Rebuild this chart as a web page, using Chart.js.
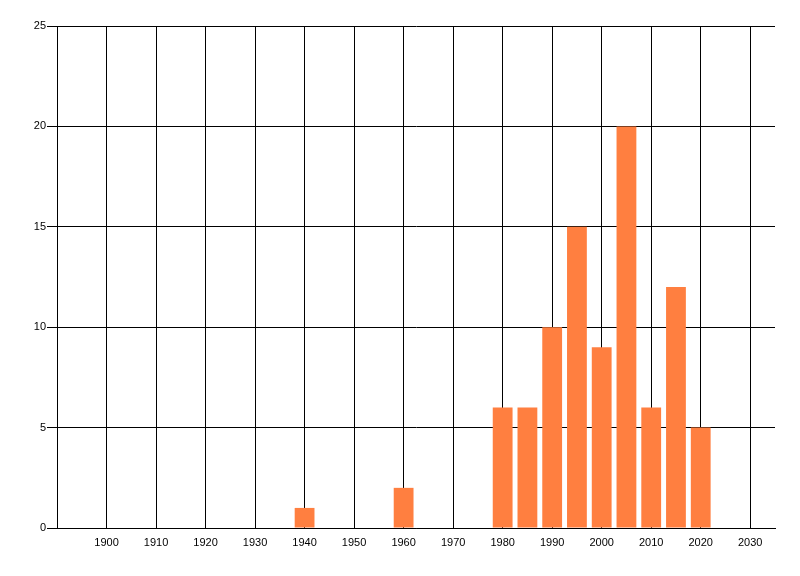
<!DOCTYPE html>
<html>
<head>
<meta charset="utf-8">
<script src="https://cdn.jsdelivr.net/npm/chart.js@4/dist/chart.umd.min.js"></script>
<style>
  html, body { margin: 0; padding: 0; background: #fff; }
  #wrap { width: 800px; height: 576px; }
</style>
</head>
<body>
<div id="wrap"><canvas id="chart" width="800" height="576"></canvas></div>
<script>
// values
const years = [1940, 1960, 1980, 1985, 1990, 1995, 2000, 2005, 2010, 2015, 2020];
const counts = [1, 2, 6, 6, 10, 15, 9, 20, 6, 12, 5];
const xTicks = [1900, 1910, 1920, 1930, 1940, 1950, 1960, 1970, 1980, 1990, 2000, 2010, 2020, 2030];
const yTicks = [0, 5, 10, 15, 20, 25];

Chart.defaults.font.family = '"Liberation Sans", Arial, sans-serif';
Chart.defaults.font.size = 11;
Chart.defaults.color = '#000';

const ctx = document.getElementById('chart').getContext('2d');
new Chart(ctx, {
    type: 'bar',
    data: {
        datasets: [{
            label: 'Count',
            data: years.map((y, i) => ({ x: y, y: counts[i] })),
            backgroundColor: 'rgb(255, 127, 64)',
            borderWidth: 0,
            categoryPercentage: 0.8,
            barPercentage: 1
        }]
    },
    options: {
        responsive: false,
        animation: false,
        devicePixelRatio: 1,
        layout: { padding: { top: 26, right: 25, left: 0, bottom: 0 } },
        plugins: { legend: { display: false }, tooltip: { enabled: false } },
        scales: {
            x: {
                type: 'linear',
                min: 1890,
                max: 2035,
                offset: false,
                afterBuildTicks: (scale) => { scale.ticks = xTicks.map(v => ({ value: v })); },
                afterFit: (scale) => { scale.height = 48; },
                grid: { color: '#000', lineWidth: 1, drawTicks: false, offset: false },
                border: { display: true, color: '#000', width: 1 },
                ticks: { padding: 8, maxRotation: 0, autoSkip: false, callback: (v) => String(v) }
            },
            y: {
                min: 0,
                max: 25,
                afterBuildTicks: (scale) => { scale.ticks = yTicks.map(v => ({ value: v })); },
                afterFit: (scale) => { scale.width = 57; },
                grid: { color: '#000', lineWidth: 1, drawTicks: true, tickLength: 10 },
                border: { display: true, color: '#000', width: 1 },
                ticks: { padding: 1 }
            }
        }
    }
});
</script>
</body>
</html>
